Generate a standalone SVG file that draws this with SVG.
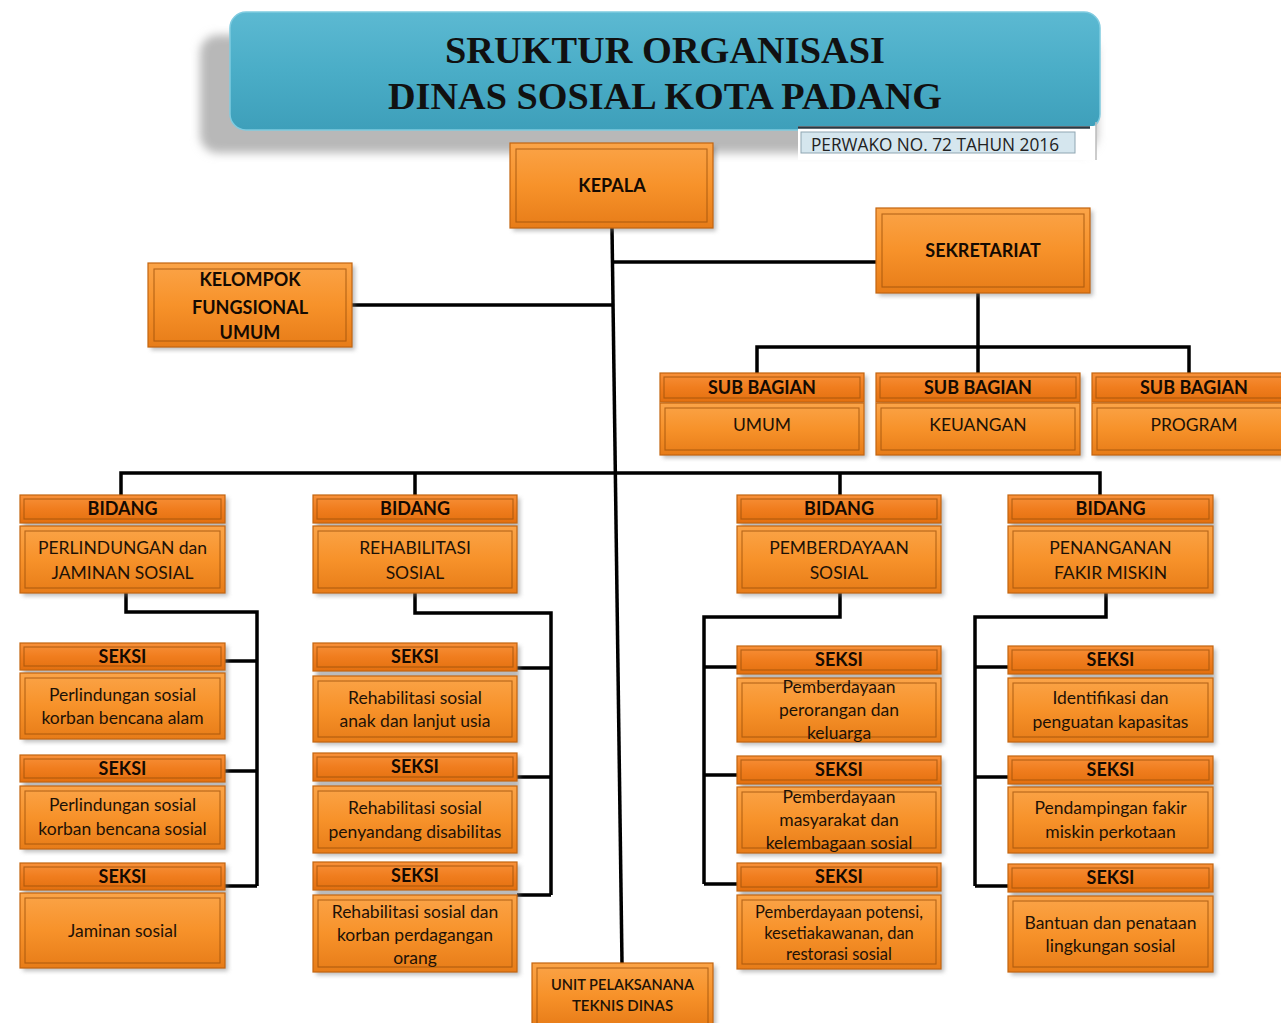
<svg xmlns="http://www.w3.org/2000/svg" width="1281" height="1023" viewBox="0 0 1281 1023">
<defs>
<linearGradient id="og" x1="0" y1="0" x2="0" y2="1">
<stop offset="0" stop-color="#FBA448"/><stop offset="0.5" stop-color="#F7922A"/><stop offset="1" stop-color="#E77C18"/>
</linearGradient>
<linearGradient id="hg" x1="0" y1="0" x2="0" y2="1">
<stop offset="0" stop-color="#F8913A"/><stop offset="0.5" stop-color="#F07D1E"/><stop offset="1" stop-color="#E3700F"/>
</linearGradient>
<linearGradient id="bg" x1="0" y1="0" x2="0" y2="1">
<stop offset="0" stop-color="#5CB9D2"/><stop offset="0.5" stop-color="#4AADC7"/><stop offset="1" stop-color="#3E9FBA"/>
</linearGradient>
<filter id="blur" x="-10%" y="-10%" width="120%" height="130%"><feGaussianBlur stdDeviation="2.2"/></filter>
<filter id="blur2" x="-10%" y="-20%" width="120%" height="140%"><feGaussianBlur stdDeviation="5"/></filter>
</defs>
<style>
.bd{fill:url(#og);stroke:#C4650F;stroke-width:1.2}
.hd{fill:url(#hg);stroke:#C4650F;stroke-width:1.2}
.in{fill:none;stroke:#9E500C;stroke-width:1.1;opacity:0.75}
.sh{fill:#7a7a7a;opacity:0.5;filter:url(#blur)}
.t{font-family:Lato,"Open Sans","Liberation Sans",sans-serif;font-size:17.5px;fill:#1e1206;text-anchor:middle}
.b{font-weight:bold;font-size:18px;fill:#140a02}
.t.s{font-size:16.5px}
.t.u{font-size:15px;font-weight:600}
.c{fill:none;stroke:#000;stroke-width:3.5;stroke-linejoin:miter}
</style>
<rect width="1281" height="1023" fill="#fff"/>

<g id="title">
<rect x="200" y="35" width="897" height="118" rx="18" fill="#b8b8b8" filter="url(#blur2)"/>
<rect x="230" y="12" width="870" height="118" rx="16" fill="url(#bg)" stroke="#7FCBE0" stroke-width="1.5"/>
<text x="665" y="63" font-family="'Liberation Serif','Times New Roman',serif" font-weight="bold" font-size="38" text-anchor="middle" textLength="440" lengthAdjust="spacingAndGlyphs" fill="#111">SRUKTUR ORGANISASI</text>
<text x="665" y="109" font-family="'Liberation Serif','Times New Roman',serif" font-weight="bold" font-size="38" text-anchor="middle" textLength="554" lengthAdjust="spacingAndGlyphs" fill="#111">DINAS SOSIAL KOTA PADANG</text>
</g>

<g id="perwako">
<rect x="798" y="126" width="298" height="34" fill="#fff"/>
<line x1="798" y1="127.5" x2="1090" y2="127.5" stroke="#2a3a44" stroke-width="2.5"/>
<line x1="1096" y1="122" x2="1096" y2="160" stroke="#bbb" stroke-width="1.5"/>
<rect x="801" y="132" width="274" height="21" fill="#D5E6EE" stroke="#8fa6b2" stroke-width="1"/>
<text x="935" y="151" font-family="'Open Sans','Liberation Sans',sans-serif" font-size="19" text-anchor="middle" textLength="248" lengthAdjust="spacingAndGlyphs" fill="#222">PERWAKO NO. 72 TAHUN 2016</text>
</g>

<g id="connectors">
<path class="c" d="M612,228 L622,963"/>
<path class="c" d="M612,262 H876"/>
<path class="c" d="M352,305 H613"/>
<path class="c" d="M978,293 V347"/>
<path class="c" d="M757,373 V347 H1189 V373 M978,347 V373"/>
<path class="c" d="M121,495 V473 H1100 V495 M415,473 V495 M840,473 V495"/>
<path class="c" d="M126,593 V612 H257 V886 M225,661 H257 M225,771 H257 M225,886 H257"/>
<path class="c" d="M415,593 V613 H551 V895 M517,668 H551 M517,777 H551 M517,895 H551"/>
<path class="c" d="M840,593 V617 H704 V884 M704,667 H737 M704,775 H737 M704,884 H737"/>
<path class="c" d="M1106,593 V617 H975 V886 M975,667 H1008 M975,777 H1008 M975,886 H1008"/>
</g>

<g id="kepala">
<rect class="sh" x="513" y="146" width="203" height="85"/>
<rect class="bd" x="510" y="143" width="203" height="85"/>
<rect class="in" x="516" y="149" width="191" height="73"/>
<text class="t b" x="612" y="192">KEPALA</text>
</g>

<g id="sekretariat">
<rect class="sh" x="879" y="211" width="214" height="85"/>
<rect class="bd" x="876" y="208" width="214" height="85"/>
<rect class="in" x="882" y="214" width="202" height="73"/>
<text class="t b" x="983" y="257">SEKRETARIAT</text>
</g>

<g id="kelompok-fungsional">
<rect class="sh" x="151" y="266" width="204" height="84"/>
<rect class="bd" x="148" y="263" width="204" height="84"/>
<rect class="in" x="154" y="269" width="192" height="72"/>
<text class="t b" x="250" y="286">KELOMPOK</text>
<text class="t b" x="250" y="314">FUNGSIONAL</text>
<text class="t b" x="250" y="339">UMUM</text>
</g>

<g id="subbag-umum">
<rect class="sh" x="663" y="376" width="204" height="82"/>
<rect class="hd" x="660" y="373" width="204" height="29"/>
<rect class="in" x="664" y="377" width="196" height="21"/>
<text class="t b" x="762" y="394">SUB BAGIAN</text>
<rect class="bd" x="660" y="403" width="204" height="52"/>
<rect class="in" x="665" y="408" width="194" height="42"/>
<text class="t" x="762" y="431">UMUM</text>
</g>
<g id="subbag-keuangan">
<rect class="sh" x="879" y="376" width="204" height="82"/>
<rect class="hd" x="876" y="373" width="204" height="29"/>
<rect class="in" x="880" y="377" width="196" height="21"/>
<text class="t b" x="978" y="394">SUB BAGIAN</text>
<rect class="bd" x="876" y="403" width="204" height="52"/>
<rect class="in" x="881" y="408" width="194" height="42"/>
<text class="t" x="978" y="431">KEUANGAN</text>
</g>
<g id="subbag-program">
<rect class="sh" x="1095" y="376" width="204" height="82"/>
<rect class="hd" x="1092" y="373" width="204" height="29"/>
<rect class="in" x="1096" y="377" width="196" height="21"/>
<text class="t b" x="1194" y="394">SUB BAGIAN</text>
<rect class="bd" x="1092" y="403" width="204" height="52"/>
<rect class="in" x="1097" y="408" width="194" height="42"/>
<text class="t" x="1194" y="431">PROGRAM</text>
</g>

<g id="bidang-pjs">
<rect class="sh" x="23" y="498" width="205" height="98"/>
<rect class="hd" x="20" y="495" width="205" height="28"/>
<rect class="in" x="24" y="499" width="197" height="20"/>
<text class="t b" x="122.5" y="515">BIDANG</text>
<rect class="bd" x="20" y="526" width="205" height="67"/>
<rect class="in" x="25" y="531" width="195" height="57"/>
<text class="t" x="122.5" y="554">PERLINDUNGAN dan</text>
<text class="t" x="122.5" y="579">JAMINAN SOSIAL</text>
</g>
<g id="bidang-rehsos">
<rect class="sh" x="316" y="498" width="204" height="98"/>
<rect class="hd" x="313" y="495" width="204" height="28"/>
<rect class="in" x="317" y="499" width="196" height="20"/>
<text class="t b" x="415" y="515">BIDANG</text>
<rect class="bd" x="313" y="526" width="204" height="67"/>
<rect class="in" x="318" y="531" width="194" height="57"/>
<text class="t" x="415" y="554">REHABILITASI</text>
<text class="t" x="415" y="579">SOSIAL</text>
</g>
<g id="bidang-dayasos">
<rect class="sh" x="740" y="498" width="204" height="98"/>
<rect class="hd" x="737" y="495" width="204" height="28"/>
<rect class="in" x="741" y="499" width="196" height="20"/>
<text class="t b" x="839" y="515">BIDANG</text>
<rect class="bd" x="737" y="526" width="204" height="67"/>
<rect class="in" x="742" y="531" width="194" height="57"/>
<text class="t" x="839" y="554">PEMBERDAYAAN</text>
<text class="t" x="839" y="579">SOSIAL</text>
</g>
<g id="bidang-pfm">
<rect class="sh" x="1011" y="498" width="205" height="98"/>
<rect class="hd" x="1008" y="495" width="205" height="28"/>
<rect class="in" x="1012" y="499" width="197" height="20"/>
<text class="t b" x="1110.5" y="515">BIDANG</text>
<rect class="bd" x="1008" y="526" width="205" height="67"/>
<rect class="in" x="1013" y="531" width="195" height="57"/>
<text class="t" x="1110.5" y="554">PENANGANAN</text>
<text class="t" x="1110.5" y="579">FAKIR MISKIN</text>
</g>

<g id="seksi-pjs-1">
<rect class="sh" x="23" y="646" width="205" height="96"/>
<rect class="hd" x="20" y="643" width="205" height="27"/>
<rect class="in" x="24" y="647" width="197" height="19"/>
<text class="t b" x="122.5" y="663">SEKSI</text>
<rect class="bd" x="20" y="673" width="205" height="66"/>
<rect class="in" x="25" y="678" width="195" height="56"/>
<text class="t" x="122.5" y="701">Perlindungan sosial</text>
<text class="t" x="122.5" y="724">korban bencana alam</text>
</g>
<g id="seksi-pjs-2">
<rect class="sh" x="23" y="758" width="205" height="94"/>
<rect class="hd" x="20" y="755" width="205" height="27"/>
<rect class="in" x="24" y="759" width="197" height="19"/>
<text class="t b" x="122.5" y="775">SEKSI</text>
<rect class="bd" x="20" y="786" width="205" height="63"/>
<rect class="in" x="25" y="791" width="195" height="53"/>
<text class="t" x="122.5" y="811">Perlindungan sosial</text>
<text class="t" x="122.5" y="835">korban bencana sosial</text>
</g>
<g id="seksi-pjs-3">
<rect class="sh" x="23" y="866" width="205" height="105"/>
<rect class="hd" x="20" y="863" width="205" height="27"/>
<rect class="in" x="24" y="867" width="197" height="19"/>
<text class="t b" x="122.5" y="883">SEKSI</text>
<rect class="bd" x="20" y="893" width="205" height="75"/>
<rect class="in" x="25" y="898" width="195" height="65"/>
<text class="t" x="122.5" y="937">Jaminan sosial</text>
</g>

<g id="seksi-rehsos-1">
<rect class="sh" x="316" y="646" width="204" height="99"/>
<rect class="hd" x="313" y="643" width="204" height="28"/>
<rect class="in" x="317" y="647" width="196" height="20"/>
<text class="t b" x="415" y="663">SEKSI</text>
<rect class="bd" x="313" y="676" width="204" height="66"/>
<rect class="in" x="318" y="681" width="194" height="56"/>
<text class="t" x="415" y="704">Rehabilitasi sosial</text>
<text class="t" x="415" y="727">anak dan lanjut usia</text>
</g>
<g id="seksi-rehsos-2">
<rect class="sh" x="316" y="756" width="204" height="100"/>
<rect class="hd" x="313" y="753" width="204" height="28"/>
<rect class="in" x="317" y="757" width="196" height="20"/>
<text class="t b" x="415" y="773">SEKSI</text>
<rect class="bd" x="313" y="786" width="204" height="67"/>
<rect class="in" x="318" y="791" width="194" height="57"/>
<text class="t" x="415" y="814">Rehabilitasi sosial</text>
<text class="t" x="415" y="838">penyandang disabilitas</text>
</g>
<g id="seksi-rehsos-3">
<rect class="sh" x="316" y="865" width="204" height="110"/>
<rect class="hd" x="313" y="862" width="204" height="28"/>
<rect class="in" x="317" y="866" width="196" height="20"/>
<text class="t b" x="415" y="882">SEKSI</text>
<rect class="bd" x="313" y="895" width="204" height="77"/>
<rect class="in" x="318" y="900" width="194" height="67"/>
<text class="t" x="415" y="918">Rehabilitasi sosial dan</text>
<text class="t" x="415" y="941">korban perdagangan</text>
<text class="t" x="415" y="964">orang</text>
</g>

<g id="seksi-dayasos-1">
<rect class="sh" x="740" y="649" width="204" height="96"/>
<rect class="hd" x="737" y="646" width="204" height="28"/>
<rect class="in" x="741" y="650" width="196" height="20"/>
<text class="t b" x="839" y="666">SEKSI</text>
<rect class="bd" x="737" y="678" width="204" height="64"/>
<rect class="in" x="742" y="683" width="194" height="54"/>
<text class="t" x="839" y="693">Pemberdayaan</text>
<text class="t" x="839" y="716">perorangan dan</text>
<text class="t" x="839" y="739">keluarga</text>
</g>
<g id="seksi-dayasos-2">
<rect class="sh" x="740" y="759" width="204" height="97"/>
<rect class="hd" x="737" y="756" width="204" height="28"/>
<rect class="in" x="741" y="760" width="196" height="20"/>
<text class="t b" x="839" y="776">SEKSI</text>
<rect class="bd" x="737" y="787" width="204" height="66"/>
<rect class="in" x="742" y="792" width="194" height="56"/>
<text class="t" x="839" y="803">Pemberdayaan</text>
<text class="t" x="839" y="826">masyarakat dan</text>
<text class="t" x="839" y="849">kelembagaan sosial</text>
</g>
<g id="seksi-dayasos-3">
<rect class="sh" x="740" y="866" width="204" height="106"/>
<rect class="hd" x="737" y="863" width="204" height="28"/>
<rect class="in" x="741" y="867" width="196" height="20"/>
<text class="t b" x="839" y="883">SEKSI</text>
<rect class="bd" x="737" y="895" width="204" height="74"/>
<rect class="in" x="742" y="900" width="194" height="64"/>
<text class="t s" x="839" y="918">Pemberdayaan potensi,</text>
<text class="t s" x="839" y="939">kesetiakawanan, dan</text>
<text class="t s" x="839" y="960">restorasi sosial</text>
</g>

<g id="seksi-pfm-1">
<rect class="sh" x="1011" y="649" width="205" height="96"/>
<rect class="hd" x="1008" y="646" width="205" height="28"/>
<rect class="in" x="1012" y="650" width="197" height="20"/>
<text class="t b" x="1110.5" y="666">SEKSI</text>
<rect class="bd" x="1008" y="678" width="205" height="64"/>
<rect class="in" x="1013" y="683" width="195" height="54"/>
<text class="t" x="1110.5" y="704">Identifikasi dan</text>
<text class="t" x="1110.5" y="728">penguatan kapasitas</text>
</g>
<g id="seksi-pfm-2">
<rect class="sh" x="1011" y="759" width="205" height="97"/>
<rect class="hd" x="1008" y="756" width="205" height="28"/>
<rect class="in" x="1012" y="760" width="197" height="20"/>
<text class="t b" x="1110.5" y="776">SEKSI</text>
<rect class="bd" x="1008" y="787" width="205" height="66"/>
<rect class="in" x="1013" y="792" width="195" height="56"/>
<text class="t" x="1110.5" y="814">Pendampingan fakir</text>
<text class="t" x="1110.5" y="838">miskin perkotaan</text>
</g>
<g id="seksi-pfm-3">
<rect class="sh" x="1011" y="867" width="205" height="108"/>
<rect class="hd" x="1008" y="864" width="205" height="28"/>
<rect class="in" x="1012" y="868" width="197" height="20"/>
<text class="t b" x="1110.5" y="884">SEKSI</text>
<rect class="bd" x="1008" y="896" width="205" height="76"/>
<rect class="in" x="1013" y="901" width="195" height="66"/>
<text class="t" x="1110.5" y="929">Bantuan dan penataan</text>
<text class="t" x="1110.5" y="952">lingkungan sosial</text>
</g>

<g id="upt">
<rect class="sh" x="535" y="966" width="181" height="64"/>
<rect class="bd" x="532" y="963" width="181" height="64"/>
<rect class="in" x="537" y="968" width="171" height="60"/>
<text class="t u" x="622.5" y="990" textLength="143" lengthAdjust="spacingAndGlyphs">UNIT PELAKSANANA</text>
<text class="t u" x="622.5" y="1011">TEKNIS DINAS</text>
</g>
</svg>
